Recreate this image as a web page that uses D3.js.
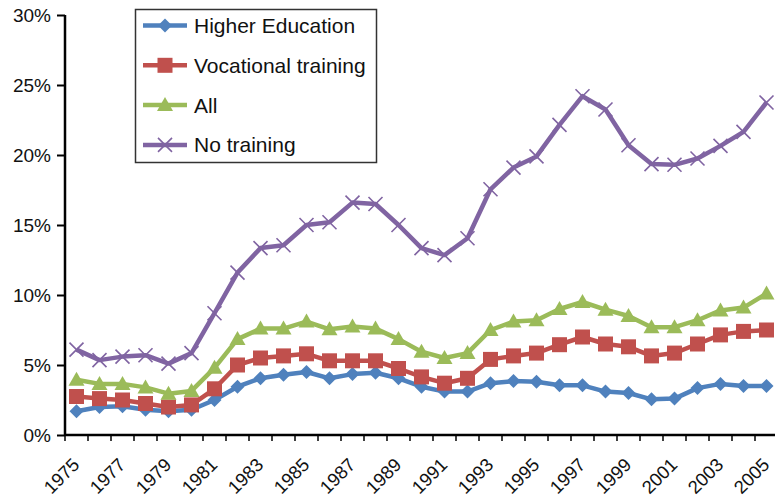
<!DOCTYPE html>
<html>
<head>
<meta charset="utf-8">
<script src="https://cdn.jsdelivr.net/npm/d3@7"></script>
<style>
  body { margin: 0; background: #fff; }
  svg { display: block; font-family: "Liberation Sans", Arial, sans-serif; }
</style>
</head>
<body>
<svg id="chart" width="775" height="501"></svg>
<script>
// data (percent)
var years = d3.range(1975, 2006);
var higherEd = [1.7, 2.0, 2.05, 1.8, 1.7, 1.8, 2.5, 3.45, 4.05, 4.3, 4.5, 4.05, 4.35, 4.45, 4.05, 3.45, 3.1, 3.1, 3.7, 3.85,
  3.8, 3.55, 3.55, 3.1, 3.0, 2.55, 2.6, 3.35, 3.65, 3.5, 3.5];
var vocational = [2.75, 2.6, 2.5, 2.25, 2.0, 2.15, 3.3, 5.0, 5.5, 5.65, 5.8, 5.3, 5.3, 5.3, 4.75, 4.15, 3.7, 4.05, 5.4, 5.65,
  5.85, 6.45, 7.0, 6.5, 6.3, 5.65, 5.85, 6.5, 7.15, 7.4, 7.5];
var allWorkers = [3.95, 3.65, 3.65, 3.4, 2.95, 3.15, 4.8, 6.85, 7.6, 7.6, 8.1, 7.55, 7.75, 7.6, 6.85, 5.95, 5.5, 5.85, 7.5, 8.1,
  8.2, 9.0, 9.5, 8.95, 8.5, 7.7, 7.7, 8.2, 8.9, 9.1, 10.1];
var noTraining = [6.1, 5.35, 5.6, 5.7, 5.1, 5.85, 8.7, 11.6, 13.35, 13.55, 15.0, 15.2, 16.6, 16.5, 15.0, 13.35, 12.85, 14.05, 17.55, 19.1,
  19.9, 22.15, 24.2, 23.25, 20.7, 19.35, 19.3, 19.75, 20.65, 21.65, 23.75];
var yTicks = [0, 5, 10, 15, 20, 25, 30];
var xLabelYears = d3.range(1975, 2006, 2);

var series = [
  { name: "Higher Education", values: higherEd, color: "#4F81BD", marker: "diamond" },
  { name: "Vocational training", values: vocational, color: "#C0504D", marker: "square" },
  { name: "All", values: allWorkers, color: "#9BBB59", marker: "triangle" },
  { name: "No training", values: noTraining, color: "#8064A2", marker: "cross" }
];

var svg = d3.select("#chart");
var plotL = 65, plotT = 15, plotB = 435, plotR = 778;

var x = d3.scaleBand().domain(years).range([plotL, plotR]);
var y = d3.scaleLinear().domain([0, 30]).range([plotB, plotT]);

function cx(yr) { return x(yr) + x.bandwidth() / 2; }

// marker drawing
function drawMarker(g, type, color) {
  if (type === "diamond") {
    g.append("path").attr("d", "M0,-7L7,0L0,7L-7,0Z").attr("fill", color);
  } else if (type === "square") {
    g.append("rect").attr("x", -7.5).attr("y", -7.5).attr("width", 15).attr("height", 15).attr("fill", color);
  } else if (type === "triangle") {
    g.append("path").attr("d", "M0,-8L8,6L-8,6Z").attr("fill", color);
  } else {
    g.append("path").attr("d", "M-7,-7L7,7M-7,7L7,-7").attr("stroke", color).attr("stroke-width", 1.6).attr("fill", "none");
  }
}

var line = d3.line()
  .x(function (d, i) { return cx(years[i]); })
  .y(function (d) { return y(d); });

series.forEach(function (s) {
  var g = svg.append("g");
  g.append("path")
    .datum(s.values)
    .attr("d", line)
    .attr("fill", "none")
    .attr("stroke", s.color)
    .attr("stroke-width", 4.5)
    .attr("stroke-linejoin", "round");
  s.values.forEach(function (v, i) {
    var m = g.append("g").attr("transform", "translate(" + cx(years[i]) + "," + y(v) + ")");
    drawMarker(m, s.marker, s.color);
  });
});

// y axis
var yAxis = svg.append("g")
  .attr("transform", "translate(" + plotL + ",0)")
  .call(d3.axisLeft(y).tickValues(yTicks).tickSize(8).tickPadding(6).tickFormat(function (d) { return d + "%"; }));
yAxis.select(".domain").attr("stroke", "#000").attr("stroke-width", 2.5).attr("d", "M0," + plotT + "V" + plotB);
yAxis.selectAll(".tick line").attr("stroke", "#000").attr("stroke-width", 2);
yAxis.selectAll(".tick text").attr("font-size", 19).attr("fill", "#111").attr("font-family", "Liberation Sans, Arial, sans-serif");

// x axis
var xAxis = svg.append("g")
  .attr("transform", "translate(0," + plotB + ")")
  .call(d3.axisBottom(x).tickSize(0).tickFormat(""));
xAxis.select(".domain").attr("stroke", "#000").attr("stroke-width", 2.5).attr("d", "M" + plotL + ",0H775");
xAxis.selectAll(".tick").remove();

// ticks at band boundaries
svg.append("g").selectAll("line")
  .data(years)
  .join("line")
  .attr("x1", function (d) { return x(d); })
  .attr("x2", function (d) { return x(d); })
  .attr("y1", plotB)
  .attr("y2", plotB + 6)
  .attr("stroke", "#000")
  .attr("stroke-width", 1.5);

svg.append("g").selectAll("text")
  .data(xLabelYears)
  .join("text")
  .attr("transform", function (d) { return "translate(" + (cx(d) + 4) + "," + (plotB + 31) + ") rotate(-45)"; })
  .attr("text-anchor", "end")
  .attr("font-size", 18.5)
  .attr("fill", "#111")
  .text(function (d) { return d; });

// legend
var legend = svg.append("g");
legend.append("rect")
  .attr("x", 135.5).attr("y", 9.5).attr("width", 241).attr("height", 153)
  .attr("fill", "#fff").attr("stroke", "#333").attr("stroke-width", 1.5);

series.forEach(function (s, i) {
  var ly = 25.5 + i * 39.8;
  var row = legend.append("g").attr("transform", "translate(0," + ly + ")");
  row.append("line").attr("x1", 143).attr("x2", 187).attr("y1", 0).attr("y2", 0)
    .attr("stroke", s.color).attr("stroke-width", 4.5);
  var m = row.append("g").attr("transform", "translate(165,0)");
  drawMarker(m, s.marker, s.color);
  row.append("text").attr("x", 194).attr("y", 7.5).attr("font-size", 21).attr("fill", "#111").text(s.name);
});
</script>
</body>
</html>
